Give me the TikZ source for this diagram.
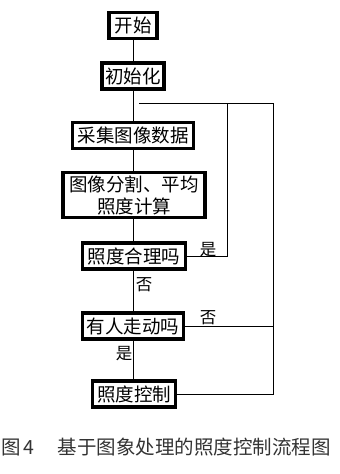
\documentclass[tikz,border=0pt]{standalone}
\usepackage{fontspec}
\newfontfamily\cjk{Noto Sans CJK SC}

\begin{document}
\begin{tikzpicture}[
    x=1pt, y=-1pt,
    stepbox/.style={draw,line width=3.5pt,inner sep=0pt,minimum height=26pt,font=\cjk\fontsize{18.5}{22}\selectfont,align=center},
    lbl/.style={font=\cjk\fontsize{16.5}{18}\selectfont,inner sep=0pt},
    every path/.style={line width=1pt}
]
\useasboundingbox (0,0) rectangle (340,474);
% boxes
\node[stepbox,minimum width=48pt] (start) at (133,25.5) {开始};
\node[stepbox,minimum width=62pt] (init) at (133,76) {初始化};
\node[stepbox,minimum width=121pt] (collect) at (133,135.5) {采集图像数据};
\node[stepbox,minimum width=142pt,minimum height=45pt] (seg) at (134,195) {图像分割、平均\\照度计算};
\node[stepbox,minimum width=103pt] (judgelight) at (134,256) {照度合理吗};
\node[stepbox,minimum width=101pt] (judgeman) at (133,326) {有人走动吗};
\node[stepbox,minimum width=83pt] (ctrl) at (134,394) {照度控制};
% loop corners
\coordinate (loopstart) at (139,103);
\coordinate (ret1) at (227,103);
\coordinate (ret2) at (273,103);
% main line
\draw (start.south -| 133,0) -- (init.north -| 133,0);
\draw (init.south -| 133,0) -- (collect.north -| 133,0);
\draw (collect.south -| 133,0) -- (seg.north -| 133,0);
\draw (seg.south -| 133,0) -- (judgelight.north -| 133,0);
\draw (judgelight.south -| 133,0) -- (judgeman.north -| 133,0);
\draw (judgeman.south -| 133,0) -- (ctrl.north -| 133,0);
% returns
\draw (loopstart) -- (ret2);
\draw (judgelight.east) -| (ret1);
\draw (judgeman.east) -| (ret2);
\draw (ctrl.east) -| (ret2);
% labels
\node[lbl] (yes1) at (208,250) {是};
\node[lbl] (no1) at (144,285) {否};
\node[lbl] (no2) at (208,318) {否};
\node[lbl] (yes2) at (124,354) {是};
% caption
\node[font=\cjk\fontsize{19.5}{22}\selectfont,text=black!80,inner sep=0pt] (caption) at (166,447) {图\,4\hspace{1.2em}基于图象处理的照度控制流程图};
\end{tikzpicture}
\end{document}
